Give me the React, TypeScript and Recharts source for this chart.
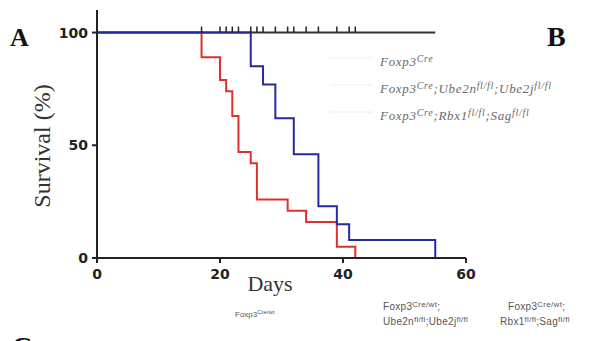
import React from 'react';
import { LineChart, Line, XAxis, YAxis } from 'recharts';

// Kaplan-Meier survival
const controlDays = [0, 17, 20, 21, 22, 23, 25, 26, 27, 29, 31, 32, 34, 36, 39, 41, 42, 55];
const controlCensored = [17, 20, 21, 22, 23, 25, 26, 27, 29, 31, 32, 34, 36, 39, 41, 42];

const ube2Days = [0, 25, 27, 29, 32, 36, 39, 41, 55];
const ube2Surv = [100, 85, 77, 62, 46, 23, 15, 8, 0];

const rbxDays = [0, 17, 20, 21, 22, 23, 25, 26, 31, 34, 39, 42];
const rbxSurv = [100, 89, 79, 74, 63, 47, 42, 26, 21, 16, 5, 0];

const xTicks = [0, 20, 40, 60];
const yTicks = [0, 50, 100];

const controlData = controlDays.map(day => ({ day, surv: 100 }));
const ube2Data = ube2Days.map((day, i) => ({ day, surv: ube2Surv[i] }));
const rbxData = rbxDays.map((day, i) => ({ day, surv: rbxSurv[i] }));

const tickStyle = { fontFamily: 'DejaVu Sans, sans-serif', fontWeight: 700, fontSize: 14, fill: '#222' };

const CensorTick = (props: any) => {
  const { cx, cy, payload, index } = props;
  if (!controlCensored.includes(payload?.day)) return <g key={`c-${index}`} />;
  return <line key={`c-${index}`} x1={cx} x2={cx} y1={cy - 6} y2={cy} stroke="#222" strokeWidth={1.5} />;
};

const serif = 'Liberation Serif, Times New Roman, serif';

export default function App() {
  return (
    <div style={{ position: 'absolute', left: 0, top: 0, width: 590, height: 341, background: '#fff', overflow: 'hidden' }}>
      <LineChart width={590} height={341} margin={{ top: 10, right: 124, bottom: 53, left: 57 }}>
        <XAxis
          type="number"
          dataKey="day"
          domain={[0, 60]}
          ticks={xTicks}
          height={30}
          allowDuplicatedCategory={false}
          axisLine={{ stroke: '#222', strokeWidth: 2 }}
          tickLine={{ stroke: '#222', strokeWidth: 2 }}
          tickSize={5}
          tickMargin={6}
          tick={tickStyle}
        />
        <YAxis
          type="number"
          domain={[0, 110]}
          ticks={yTicks}
          width={40}
          axisLine={{ stroke: '#222', strokeWidth: 2 }}
          tickLine={{ stroke: '#222', strokeWidth: 2 }}
          tickSize={5}
          tickMargin={4}
          tick={tickStyle}
        />
        <Line data={controlData} dataKey="surv" type="stepAfter" stroke="#333" strokeWidth={2} dot={CensorTick} activeDot={false} isAnimationActive={false} />
        <Line data={rbxData} dataKey="surv" type="stepAfter" stroke="#e0302e" strokeWidth={2} dot={false} activeDot={false} isAnimationActive={false} />
        <Line data={ube2Data} dataKey="surv" type="stepAfter" stroke="#2828a0" strokeWidth={2} dot={false} activeDot={false} isAnimationActive={false} />
      </LineChart>
      <svg width={590} height={341} style={{ position: 'absolute', left: 0, top: 0, pointerEvents: 'none' }}>
        <text x={10} y={46} fontFamily={serif} fontWeight={700} fontSize={26} fill="#111">A</text>
        <text x={547} y={46} fontFamily={serif} fontWeight={700} fontSize={28} fill="#111">B</text>
        <text x={12} y={356} fontFamily={serif} fontWeight={700} fontSize={28} fill="#111">C</text>
        <text transform="translate(50,146) rotate(-90)" textAnchor="middle" fontFamily={serif} fontSize={24} fill="#333">Survival (%)</text>
        <text x={270} y={291} textAnchor="middle" fontFamily={serif} fontSize={22} fill="#333">Days</text>

        <g fontFamily={serif} fontStyle="italic" fontSize={13} letterSpacing={0.7} fill="#6a6a6a">
          <line x1={330} x2={372} y1={58} y2={58} stroke="#f2f2f2" strokeWidth={1} />
          <line x1={330} x2={372} y1={85} y2={85} stroke="#eeeeee" strokeWidth={1} />
          <line x1={330} x2={372} y1={112} y2={112} stroke="#eaeaea" strokeWidth={1} />
          <text x={380} y={66}>Foxp3<tspan fontSize={10} dy={-4}>Cre</tspan></text>
          <text x={380} y={93}>Foxp3<tspan fontSize={10} dy={-4}>Cre</tspan><tspan dy={4}>;Ube2n</tspan><tspan fontSize={10} dy={-4}>fl/fl</tspan><tspan dy={4}>;Ube2j</tspan><tspan fontSize={10} dy={-4}>fl/fl</tspan></text>
          <text x={380} y={120}>Foxp3<tspan fontSize={10} dy={-4}>Cre</tspan><tspan dy={4}>;Rbx1</tspan><tspan fontSize={10} dy={-4}>fl/fl</tspan><tspan dy={4}>;Sag</tspan><tspan fontSize={10} dy={-4}>fl/fl</tspan></text>
        </g>

        <g fontFamily="Liberation Sans, Arial, sans-serif" fontSize={8} fill="#555">
          <text x={235} y={317}>Foxp3<tspan fontSize={6} dy={-3}>Cre/wt</tspan></text>
        </g>
        <g fontFamily="Liberation Sans, Arial, sans-serif" fontSize={10} letterSpacing={0.3} fill="#555">
          <text x={383} y={310}>Foxp3<tspan fontSize={8} dy={-3}>Cre/wt</tspan><tspan dy={3}>;</tspan></text>
          <text x={383} y={325}>Ube2n<tspan fontSize={8} dy={-3}>fl/fl</tspan><tspan dy={3}>;Ube2j</tspan><tspan fontSize={8} dy={-3}>fl/fl</tspan></text>
          <text x={508} y={310}>Foxp3<tspan fontSize={8} dy={-3}>Cre/wt</tspan><tspan dy={3}>;</tspan></text>
          <text x={500} y={325}>Rbx1<tspan fontSize={8} dy={-3}>fl/fl</tspan><tspan dy={3}>;Sag</tspan><tspan fontSize={8} dy={-3}>fl/fl</tspan></text>
        </g>
      </svg>
    </div>
  );
}
